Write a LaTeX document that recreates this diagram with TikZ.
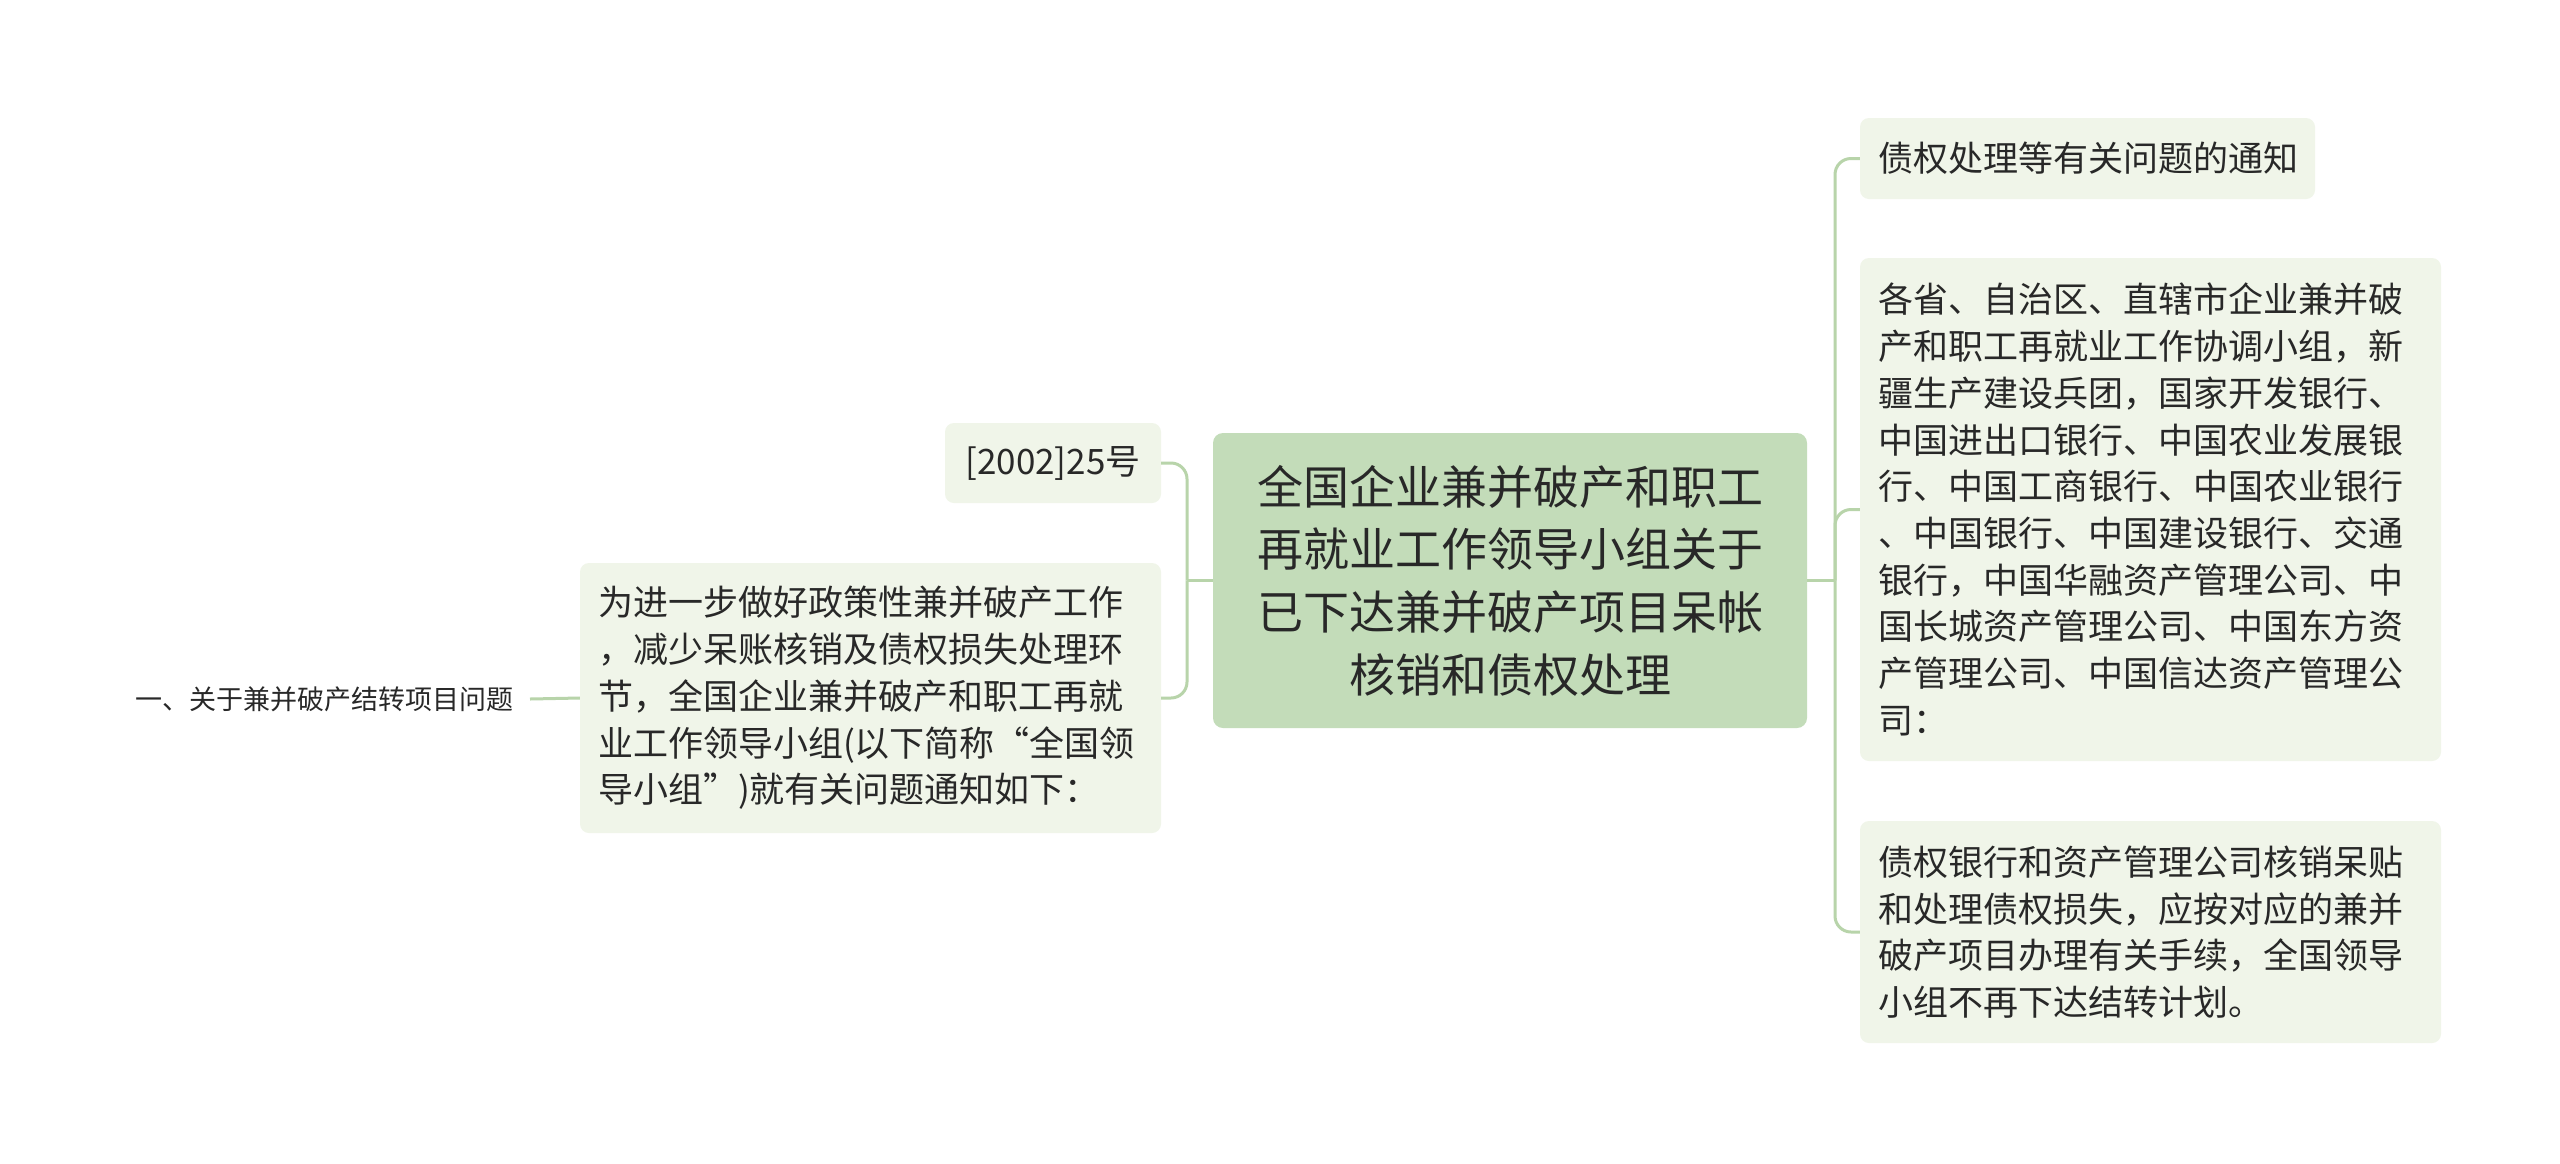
\documentclass[tikz,border=0pt]{standalone}
\usepackage{fontspec}
\setmainfont{Noto Sans CJK SC}
\definecolor{rootfill}{RGB}{195,220,185}
\definecolor{leaffill}{RGB}{240,245,233}
\definecolor{linecol}{RGB}{184,212,170}
\definecolor{txt}{RGB}{40,40,40}
\tikzset{
  rootbox/.style={fill=rootfill, rounded corners=10pt, inner sep=0pt, text=txt,
    align=center, font=\fontsize{46}{62.6}\selectfont},
  childbox/.style={fill=leaffill, rounded corners=9pt, inner sep=0pt, text=txt,
    align=left, font=\fontsize{35}{46.7}\selectfont},
  plainleaf/.style={inner xsep=16pt, inner ysep=4pt, text=txt,
    font=\fontsize{27}{34}\selectfont},
  conn/.style={draw=linecol, line width=3pt},
  connr/.style={draw=linecol, line width=3pt, rounded corners=16pt},
}
\begin{document}
\begin{tikzpicture}[x=1pt,y=-1pt]
\fill[white] (0,0) rectangle (2560,1163);
\useasboundingbox (0,0) rectangle (2560,1163);

% root
\node[rootbox, minimum width=594pt, minimum height=295pt, text width=540pt] (root) at (1510,580.5)
  {全国企业兼并破产和职工\\再就业工作领导小组关于\\已下达兼并破产项目呆帐\\核销和债权处理};

% left children
\node[childbox, minimum width=216pt, minimum height=80pt, text width=180pt, align=center] (doc) at (1053,463)
  {[2002]25号};
\node[childbox, minimum width=581pt, minimum height=270pt, text width=545pt] (intro) at (870.5,698)
  {为进一步做好政策性兼并破产工作\\，减少呆账核销及债权损失处理环\\节，全国企业兼并破产和职工再就\\业工作领导小组(以下简称“全国领\\导小组”)就有关问题通知如下：};
\node[plainleaf, anchor=east] (q1) at (530,699) {一、关于兼并破产结转项目问题};

% right children
\node[childbox, minimum width=455pt, minimum height=81pt, text width=419pt] (title) at (2087.5,158.5)
  {债权处理等有关问题的通知};
\node[childbox, minimum width=581pt, minimum height=503pt, text width=545pt] (addr) at (2150.5,509.5)
  {各省、自治区、直辖市企业兼并破\\产和职工再就业工作协调小组，新\\疆生产建设兵团，国家开发银行、\\中国进出口银行、中国农业发展银\\行、中国工商银行、中国农业银行\\、中国银行、中国建设银行、交通\\银行，中国华融资产管理公司、中\\国长城资产管理公司、中国东方资\\产管理公司、中国信达资产管理公\\司：};
\node[childbox, minimum width=581pt, minimum height=222pt, text width=545pt] (bank) at (2150.5,932)
  {债权银行和资产管理公司核销呆贴\\和处理债权损失，应按对应的兼并\\破产项目办理有关手续，全国领导\\小组不再下达结转计划。};

% junctions
\coordinate (jr) at (1835,580.5);
\coordinate (jl) at (1187,580.5);

% connectors right
\draw[conn] (root.east) -- (jr);
\draw[connr] (jr) |- (title.west);
\draw[connr] (jr) |- (addr.west);
\draw[connr] (jr) |- (bank.west);

% connectors left
\draw[conn] (root.west) -- (jl);
\draw[connr] (jl) |- (doc.east);
\draw[connr] (jl) |- (intro.east);
\draw[conn] (intro.west) -- (q1.east);
\end{tikzpicture}
\end{document}
